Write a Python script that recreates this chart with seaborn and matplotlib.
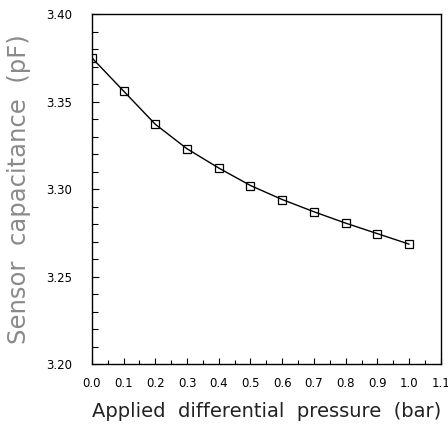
import matplotlib
matplotlib.use('Agg')
import matplotlib.pyplot as plt
import seaborn as sns
import pandas as pd
from matplotlib.ticker import MultipleLocator

# Sensor capacitance vs applied differential pressure
pressure = [0.0, 0.1, 0.2, 0.3, 0.4, 0.5, 0.6, 0.7, 0.8, 0.9, 1.0]
capacitance = [3.375, 3.356, 3.337, 3.323, 3.312, 3.302, 3.294, 3.287, 3.2805, 3.2745, 3.2685]

df = pd.DataFrame({'pressure': pressure, 'capacitance': capacitance})

sns.set_style('ticks')
plt.rcParams['font.family'] = ['DejaVu Sans']

fig = plt.figure(figsize=(4.48, 4.25), dpi=100)
ax = fig.add_axes([0.205, 0.1435, 0.779, 0.8235])

sns.lineplot(data=df, x='pressure', y='capacitance', ax=ax, color='black',
             linewidth=1.0, marker='s', markersize=6, markerfacecolor='none',
             markeredgecolor='black', markeredgewidth=0.9)

ax.set_xlim(0.0, 1.1)
ax.set_ylim(3.20, 3.40)
ax.xaxis.set_major_locator(MultipleLocator(0.1))
ax.xaxis.set_minor_locator(MultipleLocator(0.05))
ax.yaxis.set_major_locator(MultipleLocator(0.05))
ax.yaxis.set_minor_locator(MultipleLocator(0.01))
ax.xaxis.set_major_formatter(plt.FormatStrFormatter('%.1f'))
ax.yaxis.set_major_formatter(plt.FormatStrFormatter('%.2f'))

ax.tick_params(axis='both', which='both', direction='in', top=False, right=False,
               labelsize=8.5, colors='black', width=0.8)
ax.tick_params(axis='x', which='major', length=4, pad=9)
ax.tick_params(axis='x', which='minor', length=3)
ax.tick_params(axis='y', which='major', length=5, pad=14)
ax.tick_params(axis='y', which='minor', length=4)

for side in ['top', 'right', 'left', 'bottom']:
    ax.spines[side].set_visible(True)
    ax.spines[side].set_linewidth(1.0)
    ax.spines[side].set_color('black')

ax.set_xlabel('Applied  differential  pressure  (bar)', fontsize=14, labelpad=9,
              color='#222222')
ax.set_ylabel('Sensor  capacitance  (pF)', fontsize=17.5, labelpad=11, color='#8a8a8a')

fig.savefig('out.png', dpi=100)
